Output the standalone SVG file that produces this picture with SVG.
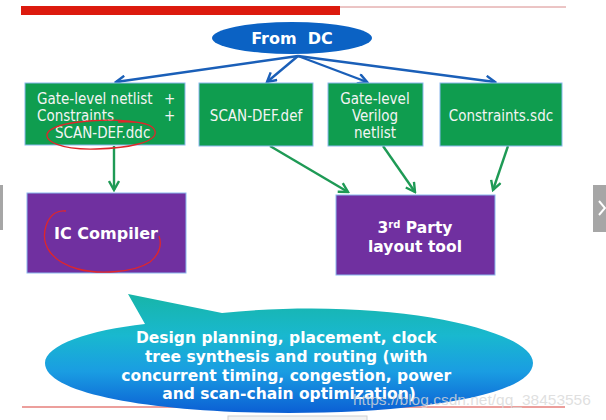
<svg xmlns="http://www.w3.org/2000/svg" width="606" height="420" viewBox="0 0 606 420">
<defs>
<marker id="ab" viewBox="0 0 12 12" refX="10" refY="6" markerWidth="12" markerHeight="12" markerUnits="userSpaceOnUse" orient="auto">
<path d="M1,1 L10,6 L1,11" fill="none" stroke="#1a5fb8" stroke-width="2.4"/>
</marker>
<marker id="ag" viewBox="0 0 12 12" refX="10" refY="6" markerWidth="12" markerHeight="12" markerUnits="userSpaceOnUse" orient="auto">
<path d="M1,1 L10,6 L1,11" fill="none" stroke="#1e9a55" stroke-width="2.4"/>
</marker>
<linearGradient id="cg2" gradientUnits="userSpaceOnUse" x1="0" y1="294" x2="0" y2="413">
<stop offset="0" stop-color="#17b5a8"/>
<stop offset="0.35" stop-color="#19b8cf"/>
<stop offset="0.65" stop-color="#1a9de2"/>
<stop offset="1" stop-color="#0b5fd4"/>
</linearGradient>
<style>
.g{fill:#0f9d4f;stroke:#8ab8ee;stroke-width:1}
.p{fill:#7030a0;stroke:#8ab8ee;stroke-width:1}
.t{font-family:"DejaVu Sans Condensed","DejaVu Sans",sans-serif;font-size:15px;fill:#f4f4f4}
.b{font-family:"DejaVu Sans","Verdana",sans-serif;font-weight:bold;fill:#ffffff}
.bl{stroke:#1a5fb8;stroke-width:2.4;fill:none;marker-end:url(#ab)}
.gl{stroke:#1e9a55;stroke-width:2.4;fill:none;marker-end:url(#ag)}
.red{fill:none;stroke:#e0262a;stroke-width:1.3}
</style>
</defs>
<rect width="606" height="420" fill="#ffffff"/>
<!-- slide decorations -->
<rect x="21" y="6" width="319" height="9" fill="#dc1a0e"/>
<line x1="340" y1="7" x2="566" y2="7" stroke="#d88a8a" stroke-width="1"/>
<line x1="22" y1="407" x2="565" y2="407" stroke="#d9403a" stroke-width="1.2"/>
<rect x="0" y="185" width="3" height="45" fill="#a6a6a6"/>
<rect x="593" y="185" width="13" height="47" fill="#a6a6a6"/>
<path d="M599,201 L605,208 L599,215" fill="none" stroke="#ffffff" stroke-width="2"/>
<rect x="228" y="416" width="139" height="6" fill="#f2f2f2" stroke="#d0d0d0" stroke-width="1"/>

<g id="connectors">
<line class="bl" x1="298" y1="56" x2="116" y2="82"/>
<line class="bl" x1="298" y1="56" x2="267" y2="82"/>
<line class="bl" x1="298" y1="56" x2="367" y2="82"/>
<line class="bl" x1="298" y1="56" x2="495" y2="82"/>
<line class="gl" x1="114" y1="146" x2="114" y2="190"/>
<line class="gl" x1="270" y1="146" x2="348" y2="192"/>
<line class="gl" x1="383" y1="146" x2="415" y2="192"/>
<line class="gl" x1="508" y1="146" x2="493" y2="190"/>
</g>

<g id="from-dc">
<ellipse cx="292" cy="38" rx="80" ry="16" fill="#0b62c4"/>
<text class="b" x="292" y="44" font-size="16" text-anchor="middle" xml:space="preserve">From  DC</text>
</g>

<g id="box-netlist">
<rect class="g" x="25" y="83" width="160" height="62"/>
<text class="t" x="37" y="104">Gate-level netlist</text>
<text class="t" x="164" y="104">+</text>
<text class="t" x="37" y="121">Constraints</text>
<text class="t" x="164" y="121">+</text>
<text class="t" x="55" y="138">SCAN-DEF.ddc</text>
</g>

<g id="box-scandef">
<rect class="g" x="199" y="83" width="114" height="63"/>
<text class="t" x="256" y="121" text-anchor="middle">SCAN-DEF.def</text>
</g>

<g id="box-verilog">
<rect class="g" x="328" y="83" width="95" height="63"/>
<text class="t" x="375" y="104" text-anchor="middle">Gate-level</text>
<text class="t" x="375" y="121" text-anchor="middle">Verilog</text>
<text class="t" x="375" y="138" text-anchor="middle">netlist</text>
</g>

<g id="box-sdc">
<rect class="g" x="440" y="83" width="122" height="63"/>
<text class="t" x="501" y="121" text-anchor="middle">Constraints.sdc</text>
</g>

<g id="ic-compiler">
<rect class="p" x="27" y="193" width="159" height="80"/>
<text class="b" x="106" y="239" font-size="16" text-anchor="middle">IC Compiler</text>
</g>

<g id="third-party">
<rect class="p" x="336" y="195" width="159" height="80"/>
<text class="b" x="415" y="233" font-size="15.5" text-anchor="middle">3<tspan font-size="10" dy="-5">rd</tspan><tspan dy="5"> Party</tspan></text>
<text class="b" x="415" y="252" font-size="15.5" text-anchor="middle">layout tool</text>
</g>

<g id="callout">
<path d="M128,294 L222,313 C390,296 533,330 533,363 C533,395 420,413 289,413 C160,413 45,395 45,363 C45,345 90,330 145,324 Z" fill="url(#cg2)"/>
<text class="b" font-size="15.5" text-anchor="middle">
<tspan x="289" y="343">Design planning, placement, clock</tspan>
<tspan x="289" y="362">tree synthesis and routing (with</tspan>
<tspan x="289" y="381">concurrent timing, congestion, power</tspan>
<tspan x="289" y="399">and scan-chain optimization)</tspan>
</text>
</g>

<!-- hand-drawn annotations -->
<path class="red" d="M146,124 C118,117 62,120 49,131 C40,141 62,150 96,149 C130,148 158,142 155,131 C153,124 140,121 118,122"/>
<path class="red" d="M66,211 C58,210 50,214 46,226 C40,245 52,262 78,269 C100,275 135,272 150,262 C160,254 162,244 159,236"/>

<text x="353" y="405" font-family="'Liberation Sans',Arial,sans-serif" font-size="15.5" fill="#d8d8d8" fill-opacity="0.8">https://blog.csdn.net/qq_38453556</text>
</svg>
